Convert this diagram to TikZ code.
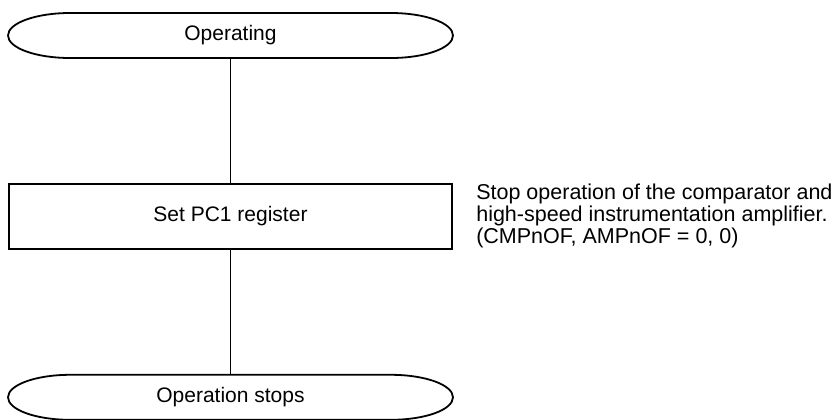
\documentclass[tikz,border=0pt]{standalone}
\usepackage{fontspec}
\setmainfont{Liberation Sans}
\usetikzlibrary{chains, positioning}

\begin{document}
\begin{tikzpicture}[
                                start chain=going below,
                                node distance=62.5pt,
                                every node/.style={font=\fontsize{10.5}{11}\selectfont},
                                every join/.style={-, line width=0.7pt},
                                terminal/.style={
                                    on chain, join,
                                    rectangle, outer sep=0pt,
                                    minimum width=222.5pt, minimum height=22.5pt
                                    },
                                module/.style={
                                    on chain, join,
                                    rectangle, draw, line width=0.9pt,
                                    minimum width=221.5pt, minimum height=32.5pt
                                    },
                                note/.style={
                                    inner sep=0pt, align=left,
                                    font=\fontsize{10.75}{11}\selectfont
                                    }
                                ]
                            \useasboundingbox (-115.25pt,17.75pt) rectangle (300.25pt,-191.75pt);
                            \node [terminal] (start) {Operating};
                            \node [module] (setpc) {Set PC1 register};
                            \node [terminal] (stop) {Operation stops};
                            \node [note, right=11.5pt of setpc] (pcnote) {Stop operation of the comparator and\\high-speed instrumentation amplifier.\\(CMPnOF, AMPnOF = 0, 0)};
                            % outline of the terminals
                            \foreach \n in {start, stop}
                                \draw [line width=0.9pt] ([xshift=31pt]\n.north west) -- ([xshift=-31pt]\n.north east)
                                    arc [start angle=90, end angle=-90, x radius=31pt, y radius=11.25pt]
                                    -- ([xshift=31pt]\n.south west)
                                    arc [start angle=270, end angle=90, x radius=31pt, y radius=11.25pt];
                        \end{tikzpicture}
\end{document}
